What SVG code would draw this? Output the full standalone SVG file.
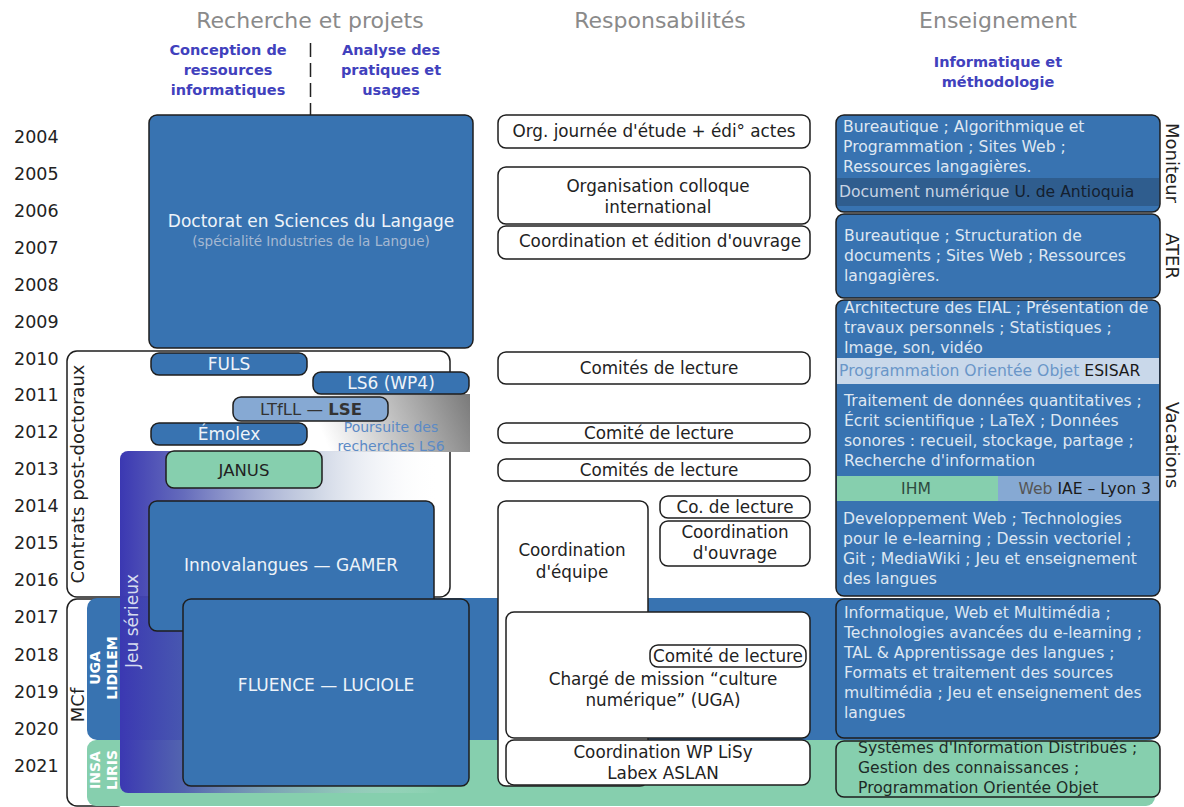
<svg xmlns="http://www.w3.org/2000/svg" width="1184" height="807" viewBox="0 0 1184 807">
<style>
text{font-family:"DejaVu Sans",sans-serif;}
.yr{font-size:17.5px;fill:#222;}
.hd{font-size:22px;fill:#8a8a8a;text-anchor:middle;}
.sh{font-size:14.5px;font-weight:bold;fill:#4141bd;text-anchor:middle;}
.box{fill:#3873b1;stroke:#1e1e1e;stroke-width:1.5;}
.wbox{fill:#fff;stroke:#1e1e1e;stroke-width:1.5;}
.gbox{fill:#86cfae;stroke:#1e1e1e;stroke-width:1.5;}
.lb{font-size:17px;fill:#eef3f9;text-anchor:middle;}
.mt{font-size:16.8px;fill:#222;text-anchor:middle;}
.rt{font-size:15.6px;fill:#dfe7f1;}
.vl{font-size:18px;fill:#222;}
.wl{font-size:14px;font-weight:bold;fill:#fff;text-anchor:middle;}
</style>
<defs>
<linearGradient id="jeu" x1="120" y1="0" x2="440" y2="0" gradientUnits="userSpaceOnUse">
<stop offset="0" stop-color="#3b38b2" stop-opacity="1"/>
<stop offset="0.2" stop-color="#4a52b0" stop-opacity="0.85"/>
<stop offset="0.6" stop-color="#8a9cc0" stop-opacity="0.45"/>
<stop offset="1" stop-color="#ffffff" stop-opacity="0"/>
</linearGradient>
<linearGradient id="ls6" x1="470" y1="394" x2="330" y2="452" gradientUnits="userSpaceOnUse">
<stop offset="0" stop-color="#7a7a7a"/>
<stop offset="1" stop-color="#ffffff"/>
</linearGradient>
</defs>

<g id="years">
<text class="yr" x="14" y="143">2004</text>
<text class="yr" x="14" y="180">2005</text>
<text class="yr" x="14" y="217">2006</text>
<text class="yr" x="14" y="254">2007</text>
<text class="yr" x="14" y="291">2008</text>
<text class="yr" x="14" y="328">2009</text>
<text class="yr" x="14" y="365">2010</text>
<text class="yr" x="14" y="401">2011</text>
<text class="yr" x="14" y="438">2012</text>
<text class="yr" x="14" y="475">2013</text>
<text class="yr" x="14" y="512">2014</text>
<text class="yr" x="14" y="549">2015</text>
<text class="yr" x="14" y="586">2016</text>
<text class="yr" x="14" y="623">2017</text>
<text class="yr" x="14" y="661">2018</text>
<text class="yr" x="14" y="698">2019</text>
<text class="yr" x="14" y="735">2020</text>
<text class="yr" x="14" y="772">2021</text>
</g>

<g id="headers">
<text class="hd" x="310" y="28">Recherche et projets</text>
<text class="hd" x="660" y="28">Responsabilités</text>
<text class="hd" x="998" y="28">Enseignement</text>
<text class="sh" x="228" y="55">Conception de</text>
<text class="sh" x="228" y="75">ressources</text>
<text class="sh" x="228" y="95">informatiques</text>
<text class="sh" x="391" y="55">Analyse des</text>
<text class="sh" x="391" y="75">pratiques et</text>
<text class="sh" x="391" y="95">usages</text>
<text class="sh" x="998" y="67">Informatique et</text>
<text class="sh" x="998" y="87">méthodologie</text>
</g>

<g id="connectors">
<line x1="310.5" y1="43" x2="310.5" y2="116" stroke="#222" stroke-width="1.5" stroke-dasharray="14,6"/>
<line x1="310.5" y1="352" x2="310.5" y2="450" stroke="#cfcfcf" stroke-width="1.2"/>
</g>

<g id="contrats">
<rect x="67" y="351" width="383" height="246" rx="10" fill="#fff" stroke="#1e1e1e" stroke-width="1.5"/>
<text class="vl" transform="translate(84,474) rotate(-90)" text-anchor="middle">Contrats post-doctoraux</text>
</g>

<g id="mcf">
<rect x="67" y="599" width="60" height="207" rx="10" fill="#fff" stroke="#1e1e1e" stroke-width="1.5"/>
<text class="vl" transform="translate(84,705) rotate(-90)" text-anchor="middle">MCf</text>
</g>

<g id="band-uga">
<rect x="87" y="598" width="1073" height="142" rx="10" fill="#3873b1"/>
</g>
<g id="band-insa">
<rect x="87" y="740" width="1068" height="66" rx="9" fill="#86cfae"/>
</g>

<g id="doctorat">
<rect class="box" x="149" y="115" width="324" height="233" rx="8"/>
<text class="lb" x="311" y="227">Doctorat en Sciences du Langage</text>
<text x="311" y="246" text-anchor="middle" font-size="13.5" fill="#a6b9d2">(spécialité Industries de la Langue)</text>
</g>

<g id="poursuite">
<rect x="313" y="394" width="157" height="58" fill="url(#ls6)"/>
<text x="391" y="432" text-anchor="middle" font-size="14" fill="#5b8ac6">Poursuite des</text>
<text x="391" y="451" text-anchor="middle" font-size="14" fill="#5b8ac6">recherches LS6</text>
</g>

<g id="fuls">
<rect class="box" x="151" y="353" width="156" height="22" rx="8"/>
<text class="lb" x="229" y="370">FULS</text>
</g>
<g id="ls6-wp4">
<rect class="box" x="313" y="372" width="156" height="22" rx="8"/>
<text class="lb" x="391" y="389">LS6 (WP4)</text>
</g>
<g id="ltfll">
<rect x="233" y="397" width="155" height="24" rx="8" fill="#86a9d3" stroke="#1e1e1e" stroke-width="1.5"/>
<text x="311" y="415" text-anchor="middle" font-size="16.5" fill="#333">LTfLL — <tspan font-weight="bold">LSE</tspan></text>
</g>
<g id="emolex">
<rect class="box" x="151" y="423" width="156" height="22" rx="8"/>
<text class="lb" x="229" y="440">Émolex</text>
</g>

<g id="jeu-serieux">
<rect x="120" y="451" width="330" height="342" rx="8" fill="url(#jeu)"/>
<text transform="translate(138,621) rotate(-90)" text-anchor="middle" font-size="17" fill="#d6dcef">Jeu sérieux</text>
</g>

<g id="uga-label">
<text class="wl" transform="translate(100,668) rotate(-90)">UGA</text>
<text class="wl" transform="translate(117,668) rotate(-90)">LIDILEM</text>
</g>
<g id="insa-label">
<text class="wl" transform="translate(100,770) rotate(-90)">INSA</text>
<text class="wl" transform="translate(117,770) rotate(-90)">LIRIS</text>
</g>

<g id="janus">
<rect class="gbox" x="166" y="451" width="156" height="37" rx="8"/>
<text x="244" y="476" text-anchor="middle" font-size="16.5" fill="#222">JANUS</text>
</g>
<g id="innovalangues">
<rect class="box" x="149" y="501" width="285" height="130" rx="8"/>
<text class="lb" x="291" y="571">Innovalangues — GAMER</text>
</g>
<g id="fluence">
<rect class="box" x="183" y="599" width="286" height="187" rx="8"/>
<text class="lb" x="326" y="691">FLUENCE — LUCIOLE</text>
</g>

<g id="resp-org">
<rect class="wbox" x="498" y="115" width="312" height="33" rx="8"/>
<text class="mt" x="654" y="137">Org. journée d'étude + édi° actes</text>
</g>
<g id="resp-colloque">
<rect class="wbox" x="498" y="167" width="312" height="57" rx="8"/>
<text class="mt" x="658" y="192">Organisation colloque</text>
<text class="mt" x="658" y="213">international</text>
</g>
<g id="resp-edition">
<rect class="wbox" x="498" y="226" width="312" height="33" rx="8"/>
<text class="mt" x="660" y="247">Coordination et édition d'ouvrage</text>
</g>
<g id="resp-comites-2010">
<rect class="wbox" x="498" y="352" width="312" height="32" rx="8"/>
<text class="mt" x="659" y="374">Comités de lecture</text>
</g>
<g id="resp-comite-2012">
<rect class="wbox" x="498" y="423" width="312" height="20" rx="8"/>
<text class="mt" x="659" y="439">Comité de lecture</text>
</g>
<g id="resp-comites-2013">
<rect class="wbox" x="498" y="459" width="312" height="22" rx="8"/>
<text class="mt" x="659" y="476">Comités de lecture</text>
</g>
<g id="resp-equipe">
<rect class="wbox" x="498" y="501" width="150" height="285" rx="8"/>
<text class="mt" x="572" y="556">Coordination</text>
<text class="mt" x="572" y="578">d'équipe</text>
</g>
<g id="resp-colecture">
<rect class="wbox" x="660" y="496" width="150" height="22" rx="8"/>
<text class="mt" x="735" y="513">Co. de lecture</text>
</g>
<g id="resp-ouvrage">
<rect class="wbox" x="660" y="521" width="150" height="45" rx="8"/>
<text class="mt" x="735" y="538">Coordination</text>
<text class="mt" x="735" y="559">d'ouvrage</text>
</g>
<g id="resp-mission">
<rect class="wbox" x="506" y="612" width="304" height="126" rx="8"/>
<text class="mt" x="663" y="685">Chargé de mission “culture</text>
<text class="mt" x="663" y="706">numérique” (UGA)</text>
</g>
<g id="resp-comite-2018">
<rect class="wbox" x="650" y="645" width="156" height="22" rx="8"/>
<text class="mt" x="728" y="662" font-size="15.5">Comité de lecture</text>
</g>
<g id="resp-lisy">
<rect class="wbox" x="506" y="740" width="304" height="45" rx="8"/>
<text class="mt" x="663" y="758">Coordination WP LiSy</text>
<text class="mt" x="663" y="779">Labex ASLAN</text>
</g>

<g id="ens-moniteur">
<rect class="box" x="836" y="115" width="324" height="97" rx="8"/>
<rect x="837" y="178" width="322" height="28" fill="#2f5d8e"/>
<text class="rt" x="843" y="132">Bureautique ; Algorithmique et</text>
<text class="rt" x="843" y="152">Programmation ; Sites Web ;</text>
<text class="rt" x="843" y="172">Ressources langagières.</text>
<text x="839" y="197" font-size="15.6" fill="#c9d4e3">Document numérique <tspan fill="#14202e">U. de Antioquia</tspan></text>
<text class="vl" transform="translate(1166,163) rotate(90)" text-anchor="middle">Moniteur</text>
</g>
<g id="ens-ater">
<rect class="box" x="836" y="214" width="324" height="84" rx="8"/>
<text class="rt" x="844" y="241">Bureautique ; Structuration de</text>
<text class="rt" x="844" y="261">documents ; Sites Web ; Ressources</text>
<text class="rt" x="844" y="281">langagières.</text>
<text class="vl" transform="translate(1166,256) rotate(90)" text-anchor="middle">ATER</text>
</g>
<g id="ens-vacations">
<rect class="box" x="836" y="300" width="324" height="296" rx="8"/>
<text class="rt" x="844" y="313">Architecture des EIAL ; Présentation de</text>
<text class="rt" x="844" y="333">travaux personnels ;  Statistiques ;</text>
<text class="rt" x="844" y="353">Image, son, vidéo</text>
<rect x="837" y="358" width="322" height="26" fill="#c9d8ea"/>
<text x="839" y="376" font-size="15.6" fill="#6a96c8">Programmation Orientée Objet <tspan fill="#1a1a1a">ESISAR</tspan></text>
<text class="rt" x="844" y="406">Traitement de données quantitatives ;</text>
<text class="rt" x="844" y="426">Écrit scientifique ; LaTeX ; Données</text>
<text class="rt" x="844" y="446">sonores : recueil, stockage, partage ;</text>
<text class="rt" x="844" y="466">Recherche d'information</text>
<rect x="837" y="476" width="161" height="25" fill="#86cfae"/>
<rect x="998" y="476" width="161" height="25" fill="#86a9d3"/>
<text x="916" y="494" text-anchor="middle" font-size="15.6" fill="#2e4a40">IHM</text>
<text x="1151" y="494" text-anchor="end" font-size="15.6" fill="#555">Web <tspan fill="#1a1a1a">IAE – Lyon 3</tspan></text>
<text class="rt" x="843" y="524">Developpement Web ; Technologies</text>
<text class="rt" x="843" y="544">pour le e-learning ; Dessin vectoriel ;</text>
<text class="rt" x="843" y="564">Git ; MediaWiki ; Jeu et enseignement</text>
<text class="rt" x="843" y="584">des langues</text>
<text class="vl" transform="translate(1166,445) rotate(90)" text-anchor="middle">Vacations</text>
</g>
<g id="ens-mcf">
<rect class="box" x="836" y="599" width="324" height="139" rx="8"/>
<text class="rt" x="844" y="618">Informatique, Web et Multimédia ;</text>
<text class="rt" x="844" y="638">Technologies avancées du e-learning ;</text>
<text class="rt" x="844" y="658">TAL &amp; Apprentissage des langues ;</text>
<text class="rt" x="844" y="678">Formats et traitement des sources</text>
<text class="rt" x="844" y="698">multimédia ; Jeu et enseignement des</text>
<text class="rt" x="844" y="718">langues</text>
</g>
<g id="ens-insa">
<rect class="gbox" x="836" y="741" width="324" height="56" rx="8"/>
<text x="858" y="753" font-size="15.6" fill="#1e2a26">Systèmes d'Information Distribués ;</text>
<text x="858" y="773" font-size="15.6" fill="#1e2a26">Gestion des connaissances ;</text>
<text x="858" y="793" font-size="15.6" fill="#1e2a26">Programmation Orientée Objet</text>
</g>
</svg>
